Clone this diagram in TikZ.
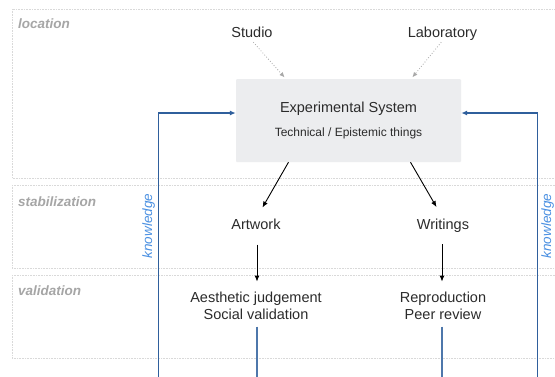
\documentclass[tikz,border=0pt]{standalone}
\usepackage{fontspec}
\setmainfont{Liberation Sans}
\usetikzlibrary{arrows.meta}
\definecolor{bandline}{HTML}{D9D9D9}
\definecolor{bandtext}{HTML}{A6A6A6}
\definecolor{boxfill}{HTML}{ECEDEF}
\definecolor{fbblue}{HTML}{2F5F9C}
\definecolor{knowblue}{HTML}{4A90E2}
\definecolor{txt}{HTML}{2B2B2B}
\definecolor{dotgray}{HTML}{A8A8A8}
\tikzset{
  band/.style={draw=bandline, line width=0.6pt, dash pattern=on 0.8pt off 0.8pt},
  bandlabel/.style={anchor=base west, inner sep=0pt, text=bandtext,
    font=\fontsize{13.5}{16}\selectfont\bfseries\itshape},
  lbl/.style={anchor=base, inner sep=0pt, text=txt, text height=10.5pt, text depth=3pt,
    font=\fontsize{14.5}{17}\selectfont},
  twolbl/.style={anchor=base, inner sep=0pt, text=txt, align=center,
    font=\fontsize{14.5}{17}\selectfont},
  small/.style={anchor=base, inner sep=0pt, text=txt, font=\fontsize{12}{14}\selectfont},
  esbox/.style={fill=boxfill, draw=none, rounded corners=1pt, minimum width=225pt, minimum height=83pt, inner sep=0pt},
  blk/.style={draw=black, line width=0.9pt, -{Latex[length=6pt,width=5pt]}},
  gdot/.style={draw=dotgray, line width=0.8pt, dotted, -{Latex[length=5pt,width=4.5pt]}},
  fb/.style={draw=fbblue, line width=1.3pt, -{Latex[length=6pt,width=5pt]}},
  down/.style={draw=fbblue!85, line width=1.3pt},
  know/.style={inner sep=0pt, text=knowblue, rotate=90, anchor=base,
    font=\fontsize{13.5}{16}\selectfont\itshape},
}
\begin{document}
\begin{tikzpicture}[x=1pt,y=-1pt]
\useasboundingbox[fill=white] (0,0) rectangle (555,376);
\clip (0,0) rectangle (555,376);
% bands
\draw[band] (12,9) rectangle (575,178);
\draw[band] (12,185) rectangle (575,268);
\draw[band] (12,275) rectangle (575,358);
\node[bandlabel] (lloc) at (18,28.3) {location};
\node[bandlabel] (lstab) at (18,206.7) {stabilization};
\node[bandlabel] (lval) at (18,295.3) {validation};
% main box
\node[esbox] (es) at (348.5,120.5) {};
\node[lbl] (est) at (348.5,112) {Experimental System};
\node[small] (ess) at (348.5,136.5) {Technical / Epistemic things};
% locations
\node[lbl] (studio) at (252,37.5) {Studio};
\node[lbl] (lab) at (442.5,37.5) {Laboratory};
\draw[gdot, shorten <=2pt, shorten >=2pt] (studio.south) -- ([xshift=50pt]es.north west);
\draw[gdot, shorten <=2pt, shorten >=2pt] (lab.south) -- ([xshift=-50pt]es.north east);
% stabilization
\node[lbl] (art) at (256,229.5) {Artwork};
\node[lbl] (wri) at (443,229) {Writings};
\draw[blk, shorten >=13pt] ([xshift=-60pt]es.south) -- (art.north);
\draw[blk, shorten >=13pt] ([xshift=62pt]es.south) -- (wri.north);
% validation
\node[twolbl] (aes) at (256,319.3) {Aesthetic judgement\\Social validation};
\node[twolbl] (rep) at (443,319.3) {Reproduction\\Peer review};
\draw[blk, shorten <=12pt, shorten >=10pt] ([xshift=1pt]art.south) -- ([xshift=1pt]art.south |- aes.north);
\draw[blk, shorten <=12pt, shorten >=10pt] ([xshift=-1pt]wri.south) -- ([xshift=-1pt]wri.south |- rep.north);
% outgoing lines
\coordinate (aesout) at (257,380);
\coordinate (repout) at (442,380);
\draw[down, shorten <=7pt] (aesout |- aes.south) -- (aesout);
\draw[down, shorten <=7pt] (repout |- rep.south) -- (repout);
% feedback
\coordinate (fbl) at (158.5,380);
\coordinate (fbr) at (537.5,380);
\draw[fb] (fbl) |- ([yshift=7.5pt]es.west);
\draw[fb] (fbr) |- ([yshift=7.5pt]es.east);
\node[know] (kl) at (152,226) {knowledge};
\node[know] (kr) at (551,226) {knowledge};
\end{tikzpicture}
\end{document}
